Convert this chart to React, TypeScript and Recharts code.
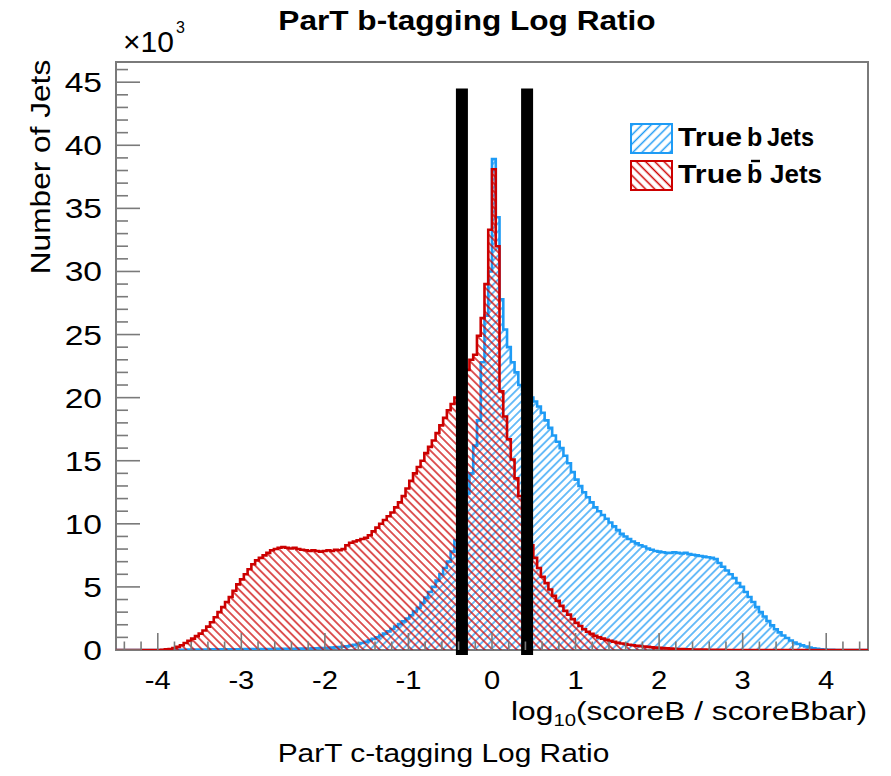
import React from 'react';
import { ComposedChart, Area, XAxis, YAxis, ReferenceLine, ReferenceArea, Legend } from 'recharts';

const FONT = '"Liberation Sans", Arial, Helvetica, sans-serif';
const BLUE = '#1e9bf5';
const RED = '#cc0000';
const GRAY = '#7a7a7a';

// histogram binning: 200 bins from -4.5 to 4.5
const BIN_MIN = -4.5;
const BIN_WIDTH = 0.045;

// True b Jets (x10^3 per bin)
const trueB = [
  0, 0, 0, 0, 0, 0, 0, 0, 0, 0,
  0, 0, 0, 0, 0.01, 0.01, 0.02, 0.02, 0.02, 0.03,
  0.03, 0.03, 0.04, 0.04, 0.04, 0.05, 0.05, 0.05, 0.05, 0.06,
  0.06, 0.06, 0.06, 0.07, 0.07, 0.07, 0.07, 0.08, 0.08, 0.08,
  0.08, 0.08, 0.09, 0.09, 0.09, 0.1, 0.1, 0.1, 0.11, 0.11,
  0.12, 0.12, 0.13, 0.14, 0.15, 0.16, 0.17, 0.19, 0.21, 0.23,
  0.26, 0.3, 0.35, 0.41, 0.48, 0.56, 0.65, 0.76, 0.88, 1.0,
  1.15, 1.3, 1.48, 1.66, 1.85, 2.05, 2.27, 2.5, 2.75, 3.05,
  3.35, 3.75, 4.15, 4.6, 5.0, 5.5, 6.0, 6.5, 7.0, 7.8,
  8.7, 9.8, 11.0, 12.4, 14.0, 16.2, 18.2, 22.8, 26.5, 30.0,
  38.9, 34.3, 27.8, 25.4, 24.0, 22.8, 22.0, 21.0, 20.6, 20.3,
  20.0, 19.7, 19.3, 18.8, 18.2, 17.6, 17.0, 16.5, 16.0, 15.4,
  14.8, 14.1, 13.5, 13.0, 12.5, 12.1, 11.7, 11.3, 11.0, 10.7,
  10.4, 10.1, 9.8, 9.5, 9.2, 9.0, 8.8, 8.6, 8.45, 8.3,
  8.2, 8.05, 7.95, 7.85, 7.8, 7.75, 7.7, 7.7, 7.75, 7.7,
  7.65, 7.7, 7.6, 7.55, 7.5, 7.45, 7.4, 7.35, 7.3, 7.2,
  6.9, 6.6, 6.3, 6.0, 5.7, 5.3, 5.0, 4.6, 4.2, 3.8,
  3.4, 3.0, 2.65, 2.3, 1.95, 1.65, 1.4, 1.15, 0.95, 0.75,
  0.6, 0.48, 0.37, 0.28, 0.2, 0.14, 0.09, 0.05, 0.03, 0.02,
  0.01, 0, 0, 0, 0, 0, 0, 0, 0, 0,
];

// True b-bar Jets (x10^3 per bin)
const trueBbar = [
  0, 0, 0, 0, 0, 0, 0, 0, 0, 0,
  0, 0, 0.02, 0.05, 0.08, 0.15, 0.25, 0.38, 0.55, 0.72,
  0.9, 1.1, 1.3, 1.55, 1.85, 2.2, 2.6, 3.0, 3.4, 3.8,
  4.2, 4.7, 5.2, 5.6, 6.0, 6.4, 6.8, 7.1, 7.3, 7.5,
  7.7, 7.9, 8.0, 8.1, 8.15, 8.1, 8.05, 8.1, 8.0, 7.95,
  7.9, 7.85, 7.9, 7.85, 7.8, 7.85, 7.9, 7.85, 7.95, 7.9,
  8.0, 8.3, 8.5, 8.6, 8.7, 8.8, 8.9, 9.1, 9.4, 9.7,
  10.0, 10.3, 10.6, 10.9, 11.3, 11.7, 12.2, 12.8, 13.4, 14.0,
  14.5, 15.0, 15.6, 16.1, 16.6, 17.2, 17.8, 18.4, 19.0, 19.5,
  20.0, 20.6, 21.3, 22.2, 23.0, 23.4, 24.9, 26.3, 29.0, 33.3,
  38.1, 32.0, 20.5, 18.5, 16.7, 15.1, 13.6, 12.2, 10.9, 9.6,
  8.3, 7.3, 6.5, 5.8, 5.3, 4.8, 4.3, 3.9, 3.5, 3.1,
  2.8, 2.45, 2.15, 1.9, 1.65, 1.45, 1.28, 1.12, 1.0, 0.9,
  0.8, 0.72, 0.65, 0.58, 0.52, 0.47, 0.42, 0.38, 0.34, 0.31,
  0.28, 0.25, 0.22, 0.19, 0.17, 0.15, 0.13, 0.11, 0.1, 0.08,
  0.07, 0.06, 0.05, 0.04, 0.04, 0.03, 0.03, 0.02, 0.02, 0.01,
  0.01, 0.01, 0, 0, 0, 0, 0, 0, 0, 0,
  0, 0, 0, 0, 0, 0, 0, 0, 0, 0,
  0, 0, 0, 0, 0, 0, 0, 0, 0, 0,
  0, 0, 0, 0, 0, 0, 0, 0, 0, 0,
];

const xTicks = [
  -4.4, -4.2, -4, -3.8, -3.6, -3.4, -3.2, -3, -2.8, -2.6, -2.4, -2.2, -2, -1.8, -1.6, -1.4, -1.2, -1,
  -0.8, -0.6, -0.4, -0.2, 0, 0.2, 0.4, 0.6, 0.8, 1, 1.2, 1.4, 1.6, 1.8, 2, 2.2, 2.4, 2.6, 2.8, 3,
  3.2, 3.4, 3.6, 3.8, 4, 4.2, 4.4,
];
const yTicks = [
  0, 1, 2, 3, 4, 5, 6, 7, 8, 9, 10, 11, 12, 13, 14, 15, 16, 17, 18, 19, 20, 21, 22, 23, 24, 25,
  26, 27, 28, 29, 30, 31, 32, 33, 34, 35, 36, 37, 38, 39, 40, 41, 42, 43, 44, 45, 46,
];
const X_DOMAIN: [number, number] = [-4.5, 4.5];
const Y_MAX = 46.6;

// selection cuts (black bars)
const cutLow = -0.36;
const cutHigh = 0.42;
const cutBottom = -0.4;
const cutTop = 44.5;

const data = trueB.map((b, i) => ({
  x: Math.round((BIN_MIN + i * BIN_WIDTH) * 1000) / 1000,
  b,
  bbar: trueBbar[i],
}));
data.push({ x: X_DOMAIN[1], b: trueB[trueB.length - 1], bbar: trueBbar[trueBbar.length - 1] });

const isMajor = (v: number, step: number) => Math.abs(v / step - Math.round(v / step)) < 1e-6;

const XTick = (props: any) => {
  const { x, y, payload } = props;
  const v = payload.value as number;
  const major = isMajor(v, 1);
  return (
    <g>
      <line x1={x} y1={y} x2={x} y2={y - (major ? 17 : 8.5)} stroke={GRAY} strokeWidth={1.6} />
      {major && (
        <text
          transform={`translate(${x},${y + 39}) scale(1.1,1)`}
          textAnchor="middle"
          fontSize={26.5}
          fontFamily={FONT}
          fill="#000"
        >
          {String(v)}
        </text>
      )}
    </g>
  );
};

const YTick = (props: any) => {
  const { x, y, payload } = props;
  const v = payload.value as number;
  const major = isMajor(v, 5);
  return (
    <g>
      <line x1={x} y1={y} x2={x + (major ? 24 : 12)} y2={y} stroke={GRAY} strokeWidth={1.6} />
      {major && (
        <text
          transform={`translate(${x - 14},${y + 10}) scale(1.2,1)`}
          textAnchor="end"
          fontSize={28}
          fontFamily={FONT}
          fill="#000"
        >
          {String(v)}
        </text>
      )}
    </g>
  );
};

const legendItems = [
  { key: 'b', pattern: 'hatchBL', color: BLUE, bar: false, jetsX: 137, jetsLen: 47 },
  { key: 'bbar', pattern: 'hatchRL', color: RED, bar: true, jetsX: 140, jetsLen: 52 },
];

const LegendContent = () => (
  <svg width={200} height={72} style={{ display: 'block', overflow: 'visible' }}>
    {legendItems.map((it, k) => {
      const top = 1 + k * 37;
      const common = { fontSize: 25, fontWeight: 'bold', fontFamily: FONT, fill: '#000' } as any;
      return (
        <g key={it.key}>
          <rect x={1} y={top} width={41} height={29} fill={`url(#${it.pattern})`} stroke={it.color} strokeWidth={2} />
          <text x={48} y={top + 22} textLength={64} lengthAdjust="spacingAndGlyphs" {...common}>True</text>
          <text x={117} y={top + 22} {...common}>b</text>
          {it.bar && <line x1={121} x2={130} y1={top} y2={top} stroke="#000" strokeWidth={2.4} />}
          <text x={it.jetsX} y={top + 22} textLength={it.jetsLen} lengthAdjust="spacingAndGlyphs" {...common}>Jets</text>
        </g>
      );
    })}
  </svg>
);

export default function App() {
  return (
    <div style={{ position: 'relative', width: 875, height: 760 }}>
      <ComposedChart
        width={875}
        height={760}
        data={data}
        margin={{ top: 54, right: 15, left: 8, bottom: 78 }}
      >
        <defs>
          <pattern id="hatchB" patternUnits="userSpaceOnUse" width="5.7" height="5.7" patternTransform="rotate(45)">
            <line x1="2.85" y1="0" x2="2.85" y2="5.7" stroke={BLUE} strokeWidth="1.3" />
          </pattern>
          <pattern id="hatchR" patternUnits="userSpaceOnUse" width="5.7" height="5.7" patternTransform="rotate(-45)">
            <line x1="2.85" y1="0" x2="2.85" y2="5.7" stroke={RED} strokeWidth="1.3" />
          </pattern>
          <pattern id="hatchBL" patternUnits="userSpaceOnUse" width="6.5" height="6.5" patternTransform="rotate(45)">
            <line x1="3.25" y1="0" x2="3.25" y2="6.5" stroke={BLUE} strokeWidth="1.5" />
          </pattern>
          <pattern id="hatchRL" patternUnits="userSpaceOnUse" width="6.5" height="6.5" patternTransform="rotate(-45)">
            <line x1="3.25" y1="0" x2="3.25" y2="6.5" stroke={RED} strokeWidth="1.5" />
          </pattern>
        </defs>
        <XAxis
          dataKey="x"
          type="number"
          domain={X_DOMAIN}
          allowDataOverflow
          ticks={xTicks}
          interval={0}
          tick={<XTick />}
          tickLine={false}
          axisLine={false}
          tickSize={0}
          tickMargin={0}
          height={40}
        />
        <YAxis
          type="number"
          domain={[0, Y_MAX]}
          allowDataOverflow
          ticks={yTicks}
          interval={0}
          tick={<YTick />}
          tickLine={false}
          axisLine={false}
          tickSize={0}
          tickMargin={0}
          width={100}
        />
        <ReferenceArea
          x1={X_DOMAIN[0]}
          x2={X_DOMAIN[1]}
          y1={0}
          y2={Y_MAX}
          fill="none"
          fillOpacity={0}
          stroke={GRAY}
          strokeWidth={2}
          ifOverflow="visible"
        />
        <Area
          type="stepAfter"
          dataKey="b"
          stroke={BLUE}
          strokeWidth={2.6}
          fill="url(#hatchB)"
          fillOpacity={1}
          dot={false}
          activeDot={false}
          isAnimationActive={false}
        />
        <Area
          type="stepAfter"
          dataKey="bbar"
          stroke={RED}
          strokeWidth={2.6}
          fill="url(#hatchR)"
          fillOpacity={1}
          dot={false}
          activeDot={false}
          isAnimationActive={false}
        />
        <ReferenceLine
          segment={[{ x: cutLow, y: cutBottom }, { x: cutLow, y: cutTop }]}
          stroke="#000"
          strokeWidth={12}
          ifOverflow="visible"
        />
        <ReferenceLine
          segment={[{ x: cutHigh, y: cutBottom }, { x: cutHigh, y: cutTop }]}
          stroke="#000"
          strokeWidth={12}
          ifOverflow="visible"
        />
        <Legend
          layout="vertical"
          align="center"
          verticalAlign="middle"
          wrapperStyle={{ left: 622, top: 115, width: 200 }}
          content={<LegendContent />}
        />
        <text x={115} y={44} fontSize={30} fontFamily={FONT} fill="#000">×10</text>
        <text x={168} y={25} fontSize={16} fontFamily={FONT} fill="#000">3</text>
        <text transform="translate(42,159) rotate(-90) scale(1.13,1)" textAnchor="middle" fontSize={28} fontFamily={FONT} fill="#000">
          Number of Jets
        </text>
        <text transform="translate(859,712) scale(1.27,1)" textAnchor="end" fontSize={25} fontFamily={FONT} fill="#000">
          log<tspan fontSize={16} dy={6}>10</tspan>
          <tspan dy={-6}>(scoreB / scoreBbar)</tspan>
        </text>
        <text transform="translate(435.5,753.5) scale(1.15,1)" textAnchor="middle" fontSize={26} fontFamily={FONT} fill="#000">
          ParT c-tagging Log Ratio
        </text>
      </ComposedChart>
      <div
        style={{
          position: 'absolute',
          left: 459,
          top: 0,
          transform: 'translateX(-50%) scaleX(1.17)',
          whiteSpace: 'nowrap',
          fontFamily: FONT,
          fontWeight: 'bold',
          fontSize: 27,
          lineHeight: '27px',
          color: '#000',
        }}
      >
        ParT b-tagging Log Ratio
      </div>
    </div>
  );
}
